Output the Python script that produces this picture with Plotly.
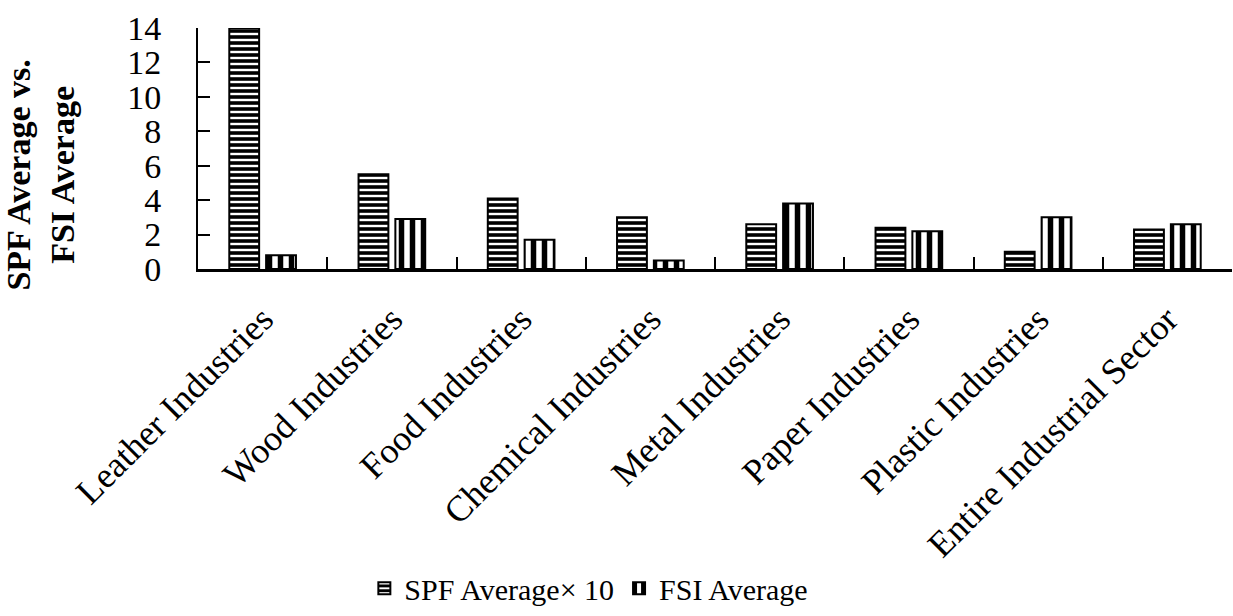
import plotly.graph_objects as go

categories = ["Leather Industries", "Wood Industries", "Food Industries", "Chemical Industries",
              "Metal Industries", "Paper Industries", "Plastic Industries", "Entire Industrial Sector"]
spf_avg_x10 = [14.0, 5.5, 4.1, 3.0, 2.6, 2.4, 1.0, 2.3]
fsi_avg = [0.8, 2.9, 1.7, 0.5, 3.8, 2.2, 3.0, 2.6]
y_ticks = [0, 2, 4, 6, 8, 10, 12, 14]

FONT = "Liberation Serif, Times New Roman, serif"

fig = go.Figure()
fig.add_trace(go.Bar(
    x=categories, y=spf_avg_x10, name="SPF Average× 10",
    marker=dict(color="white", line=dict(color="black", width=2),
                pattern=dict(shape="-", fgcolor="black", fgopacity=1, bgcolor="white",
                             size=6, solidity=0.6)),
))
fig.add_trace(go.Bar(
    x=categories, y=fsi_avg, name="FSI Average",
    marker=dict(color="white", line=dict(color="black", width=2),
                pattern=dict(shape="|", fgcolor="black", fgopacity=1, bgcolor="white",
                             size=11, solidity=0.5)),
))

fig.update_layout(
    width=1233, height=616,
    margin=dict(l=198, r=1, t=28, b=343),
    paper_bgcolor="white", plot_bgcolor="white",
    barmode="group", bargap=0.43, bargroupgap=0.19,
    font=dict(family=FONT, color="black"),
    showlegend=True,
    legend=dict(orientation="h", x=0.378, xanchor="center", y=-1.325, yanchor="middle",
                font=dict(family=FONT, size=30, color="black"), itemwidth=30,
                traceorder="normal"),
    xaxis=dict(
        showline=True, linecolor="black", linewidth=2.5,
        ticks="inside", tickson="boundaries", ticklen=12, tickwidth=2, tickcolor="black",
        tickangle=-45, tickfont=dict(family=FONT, size=36, color="black"),
        ticklabelstandoff=12,
        showgrid=False, zeroline=False, range=[-0.5, 7.5],
    ),
    yaxis=dict(
        range=[0, 14], tickvals=y_ticks, ticktext=[str(v) for v in y_ticks],
        showline=True, linecolor="black", linewidth=2,
        ticks="inside", ticklen=12, tickwidth=2, tickcolor="black",
        tickfont=dict(family=FONT, size=34, color="black"),
        ticklabelstandoff=28,
        showgrid=False, zeroline=False,
    ),
    annotations=[dict(
        text="<b>SPF Average vs.<br>FSI Average</b>",
        xref="paper", yref="paper", x=-0.152, y=0.391,
        xanchor="center", yanchor="middle", textangle=-90, showarrow=False,
        font=dict(family=FONT, size=34, color="black"),
    )],
)

fig.write_html("out.html")
